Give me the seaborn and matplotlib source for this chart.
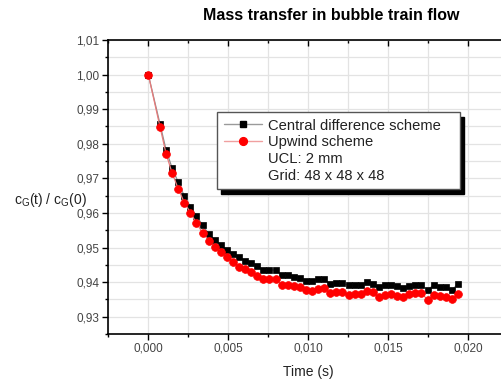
import matplotlib
matplotlib.use("Agg")
import matplotlib.pyplot as plt
import seaborn as sns
import pandas as pd
from matplotlib.ticker import MultipleLocator, FuncFormatter
from matplotlib.lines import Line2D

sns.set_style("ticks")
plt.rcParams['font.family'] = ['Liberation Sans', 'DejaVu Sans']

time_s = [0.0, 0.00073, 0.00111, 0.00149, 0.00187, 0.00225, 0.00263, 0.00301, 0.00339,
          0.00377, 0.00415, 0.00453, 0.00491, 0.00529, 0.00567, 0.00605, 0.00643,
          0.00681, 0.00719, 0.00757, 0.00795, 0.00833, 0.00871, 0.00909, 0.00947,
          0.00985, 0.01023, 0.01061, 0.01099, 0.01137, 0.01175, 0.01213, 0.01251,
          0.01289, 0.01327, 0.01365, 0.01403, 0.01441, 0.01479, 0.01517, 0.01555,
          0.01593, 0.01631, 0.01669, 0.01707, 0.01745, 0.01783, 0.01821, 0.01859,
          0.01897, 0.01935]

central = [1.0000, 0.9857, 0.9782, 0.9729, 0.9689, 0.9649, 0.9618, 0.9591, 0.9565,
           0.9539, 0.9522, 0.9508, 0.9493, 0.9481, 0.9474, 0.9461, 0.9455,
           0.9447, 0.9435, 0.9435, 0.9435, 0.9421, 0.9421, 0.9416, 0.9411,
           0.9404, 0.9404, 0.9408, 0.9408, 0.9395, 0.9397, 0.9397, 0.9391, 0.9391,
           0.9392, 0.9399, 0.9395, 0.9385, 0.9392, 0.9392, 0.9389, 0.9382,
           0.9389, 0.9392, 0.9392, 0.9377, 0.9392, 0.9387, 0.9385, 0.9377, 0.9395]

upwind = [1.0000, 0.9849, 0.9771, 0.9715, 0.9670, 0.9630, 0.9601, 0.9570, 0.9543,
          0.9520, 0.9501, 0.9486, 0.9474, 0.9458, 0.9445, 0.9438, 0.9430,
          0.9418, 0.9408, 0.9408, 0.9408, 0.9392, 0.9392, 0.9389, 0.9385,
          0.9377, 0.9375, 0.9379, 0.9382, 0.9368, 0.9370, 0.9370, 0.9363, 0.9366,
          0.9366, 0.9373, 0.9370, 0.9356, 0.9363, 0.9366, 0.9360, 0.9356,
          0.9366, 0.9368, 0.9368, 0.9349, 0.9363, 0.9360, 0.9356, 0.9351, 0.9366]

series_names = ["Central difference scheme", "Upwind scheme"]
extra_labels = ["UCL: 2 mm", "Grid: 48 x 48 x 48"]
title = "Mass transfer in bubble train flow"

df_c = pd.DataFrame({"t": time_s, "c": central})
df_u = pd.DataFrame({"t": time_s, "c": upwind})

W, H = 501, 383
fig = plt.figure(figsize=(W / 100, H / 100), dpi=100)
ax = fig.add_axes([108 / W, 1 - 334 / H, 1 - 108 / W, (334 - 40) / H])

sns.lineplot(data=df_c, x="t", y="c", ax=ax, color="#8c8c8c", linewidth=0.9,
             marker="s", markersize=5.0, markerfacecolor="black",
             markeredgecolor="black", markeredgewidth=0.5, zorder=3)
sns.lineplot(data=df_u, x="t", y="c", ax=ax, color="#e87a7a", linewidth=0.9,
             marker="o", markersize=5.6, markerfacecolor="#ff0000",
             markeredgecolor="#ff0000", markeredgewidth=0.5, zorder=4)

ax.set_xlim(-0.00252, 0.02204)
ax.set_ylim(0.925, 1.01)
ax.xaxis.set_major_locator(MultipleLocator(0.005))
ax.xaxis.set_minor_locator(MultipleLocator(0.0025))
ax.yaxis.set_major_locator(MultipleLocator(0.01))
ax.yaxis.set_minor_locator(MultipleLocator(0.005))
ax.xaxis.set_major_formatter(FuncFormatter(lambda v, p: f"{v:.3f}".replace(".", ",").replace("-0,000", "0,000")))
ax.yaxis.set_major_formatter(FuncFormatter(lambda v, p: f"{v:.2f}".replace(".", ",")))

ax.grid(True, which="both", color="#e3e3e3", linewidth=0.9, zorder=0)
ax.set_axisbelow(True)
for s in ["left", "bottom", "top"]:
    ax.spines[s].set_color("black")
    ax.spines[s].set_linewidth(1.2)
ax.spines["right"].set_visible(False)

ax.tick_params(axis="both", which="major", direction="out", length=4, width=1,
               labelsize=8.5, labelcolor="#444444", color="black", pad=2)
ax.tick_params(axis="both", which="minor", direction="out", length=2.5, width=1, color="black")
ax.tick_params(axis="x", which="both", top=True, labeltop=False)
ax.set_xlabel("")
ax.set_ylabel("")
for t in ax.xaxis.get_major_ticks() + ax.xaxis.get_minor_ticks():
    t.tick2line.set_marker(matplotlib.lines.TICKDOWN)

fig.text(308 / W, 1 - 372 / H, "Time (s)", ha="center", va="center", fontsize=10, color="#222222")
fig.text(50 / W, 1 - 200 / H, r"c$_\mathregular{G}$(t) / c$_\mathregular{G}$(0)",
         ha="center", va="center", fontsize=10, color="#222222")
fig.text(331 / W, 1 - 16 / H, title, ha="center", va="center", fontsize=11.5,
         fontweight="bold", color="black")

handles = [
    Line2D([], [], color="#9a9a9a", linewidth=1, marker="s", markersize=5.0,
           markerfacecolor="black", markeredgecolor="black"),
    Line2D([], [], color="#f0a0a0", linewidth=1, marker="o", markersize=5.6,
           markerfacecolor="#ff0000", markeredgecolor="#ff0000"),
    Line2D([], [], linestyle="none"),
    Line2D([], [], linestyle="none"),
]
labels = series_names + extra_labels
leg = ax.legend(handles, labels, loc="upper left", mode="expand",
                bbox_to_anchor=(217 / W, 1 - 187 / H, 243 / W, 75 / H),
                bbox_transform=fig.transFigure,
                fontsize=10.6, frameon=True, fancybox=False, edgecolor="#555555",
                framealpha=1, borderpad=0.45, labelspacing=0.18, handlelength=2.6,
                handletextpad=0.4, borderaxespad=0,
                shadow={"color": "black", "alpha": 1.0, "ox": 3, "oy": -3.5})
leg.get_frame().set_linewidth(1.0)
for txt in leg.get_texts():
    txt.set_color("#222222")

fig.savefig("out.png", dpi=100)
